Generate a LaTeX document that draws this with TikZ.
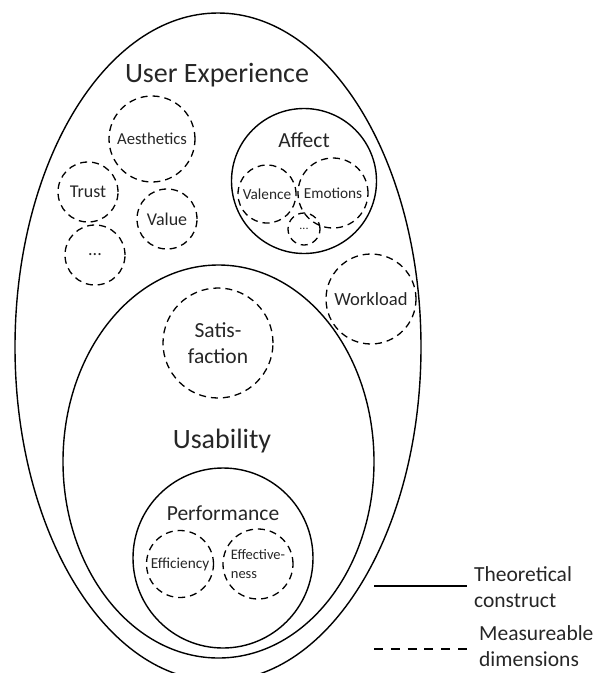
\documentclass[tikz,border=0pt]{standalone}
\usepackage{fontspec}
\setmainfont{Carlito}
\usetikzlibrary{shapes.geometric}

\begin{document}
\begin{tikzpicture}[
    x=1pt, y=-1pt,
    all/.style={inner sep=0pt, align=center, text=black!85},
    construct/.style={all, draw, line width=1.4pt},
    dimension/.style={all, circle, draw, line width=1.3pt, dash pattern=on 7pt off 5pt},
    big/.style={font=\fontsize{28}{34}\selectfont},
    mid/.style={font=\fontsize{21.5}{26.5}\selectfont},
    small/.style={font=\fontsize{18}{22}\selectfont},
    tiny/.style={font=\fontsize{15.3}{19}\selectfont},
]
    \useasboundingbox (0,0) rectangle (598,673);
    \clip (0,0) rectangle (598,673);

    \node [construct, ellipse, minimum width=406pt, minimum height=668pt] (ux) at (218,347) {};
    \node [construct, ellipse, minimum width=311pt, minimum height=393pt] (us) at (218.5,461.5) {};
    \node [construct, circle, minimum size=145pt] (affect) at (304,181) {};
    \node [construct, circle, minimum size=180pt] (perf) at (223,558) {};

    \node [all, big, anchor=base] (uxlabel) at (217,82) {User Experience};
    \node [all, big, anchor=base] (uslabel) at (222,448) {Usability};
    \node [all, mid, anchor=base] (afflabel) at (304,147) {Affect};
    \node [all, mid, anchor=base] (perflabel) at (223,520) {Performance};

    \node [dimension, minimum size=86pt, font=\fontsize{16.7}{20}\selectfont] (aesthetics) at (152,139) {Aesthetics};
    \node [dimension, small, minimum size=60pt] (trust) at (88,192) {Trust};
    \node [dimension, small, minimum size=60pt] (value) at (167,219) {Value};
    \node [dimension, small, minimum size=60pt] (uxmore) at (95,255) {...};
    \node [dimension, tiny, minimum size=58pt] (valence) at (267,194) {Valence};
    \node [dimension, tiny, minimum size=70pt] (emotions) at (333,193) {Emotions};
    \node [dimension, minimum size=32pt, font=\fontsize{12}{14}\selectfont] (affmore) at (304,229) {...};
    \node [dimension, minimum size=90pt, font=\fontsize{18.6}{22}\selectfont] (workload) at (371,299) {Workload};
    \node [dimension, mid, minimum size=110pt] (satisfaction) at (218,343) {Satis-\\faction};
    \node [dimension, tiny, minimum size=67pt] (efficiency) at (180,564) {Efficiency};
    \node [dimension, minimum size=70pt, align=left, font=\fontsize{14.5}{19}\selectfont] (effectiveness) at (258,564) {Effective-\\ness};

    \coordinate (solidL) at (374,586);
    \coordinate (solidR) at (467,586);
    \draw [line width=1.6pt] (solidL) -- (solidR);
    \node [all, mid, anchor=west, align=left] (theory) at (474,587) {Theoretical\\construct};
    \coordinate (dashL) at (374,649);
    \coordinate (dashR) at (467,649);
    \draw [line width=1.6pt, dash pattern=on 9pt off 7.8pt] (dashL) -- (dashR);
    \node [all, anchor=west, align=left, font=\fontsize{21.5}{25.5}\selectfont] (measure) at (479,646) {Measureable\\dimensions};
\end{tikzpicture}
\end{document}
